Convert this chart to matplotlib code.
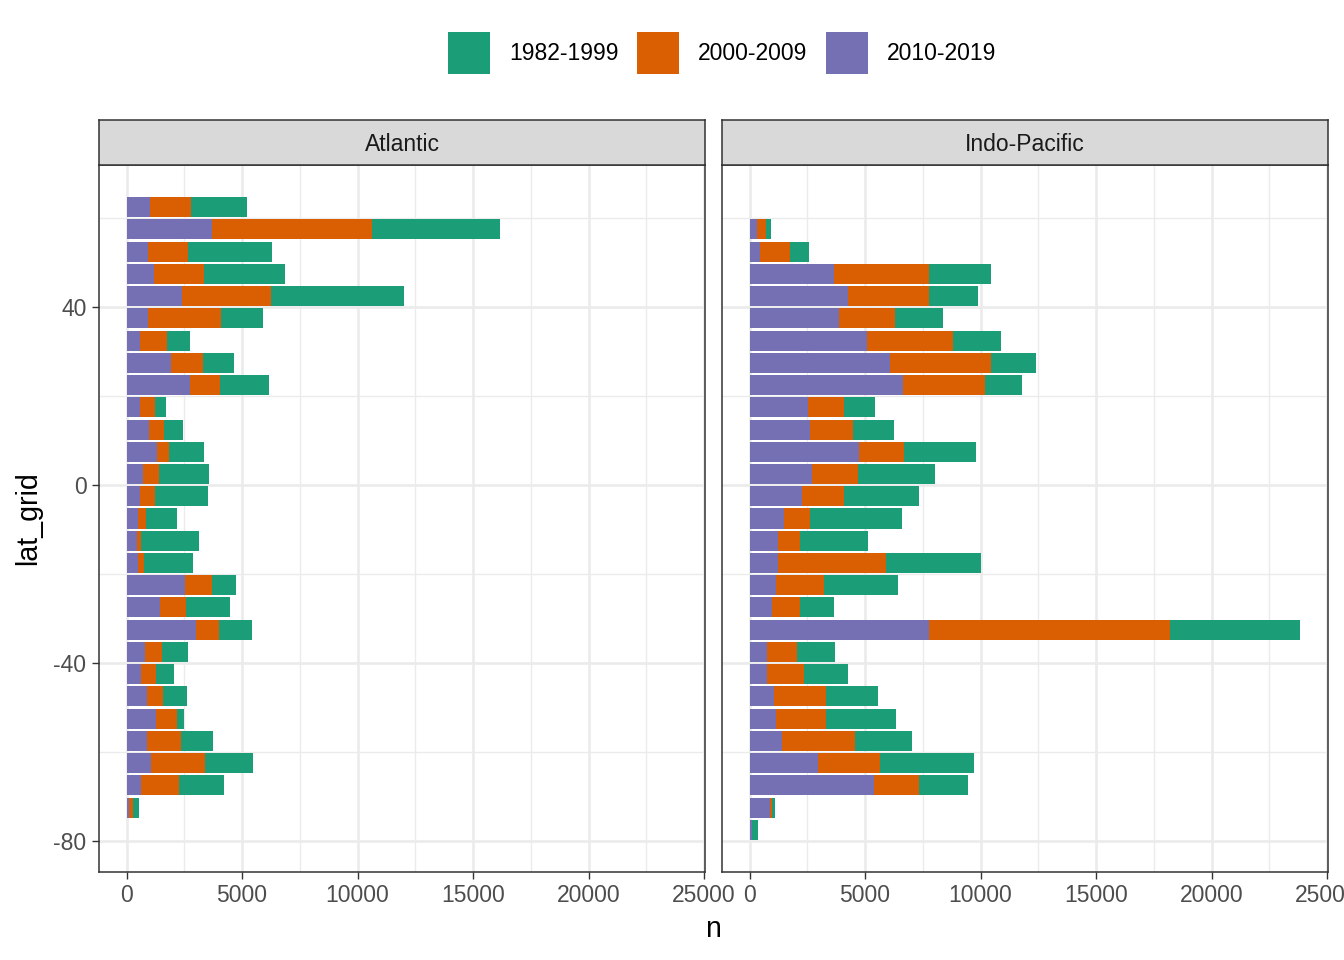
import numpy as np
import matplotlib
matplotlib.use("Agg")
import matplotlib.pyplot as plt
from matplotlib.patches import Patch
from matplotlib.ticker import MultipleLocator

plt.rcParams["font.family"] = ["Liberation Sans", "DejaVu Sans"]
plt.rcParams["axes.unicode_minus"] = False

# latitude bins (5 degree grid)
lat_grid = [62.5, 57.5, 52.5, 47.5, 42.5, 37.5, 32.5, 27.5, 22.5, 17.5,
            12.5, 7.5, 2.5, -2.5, -7.5, -12.5, -17.5, -22.5, -27.5, -32.5,
            -37.5, -42.5, -47.5, -52.5, -57.5, -62.5, -67.5, -72.5, -77.5]

periods = ["1982-1999", "2000-2009", "2010-2019"]
period_colors = ["#1B9E77", "#D95F02", "#7570B3"]
basins = ["Atlantic", "Indo-Pacific"]

# counts per period, Atlantic
atl_1982 = [2414, 5517, 3608, 3478, 5775, 1810, 992, 1336, 2099, 474,
            806, 1509, 2155, 2284, 1323, 2499, 2099, 1021, 1884, 1423,
            1107, 763, 1034, 302, 1379, 2069, 1940, 288, 0]
atl_2000 = [1754, 6926, 1723, 2155, 3823, 3133, 1151, 1379, 1292, 634,
            660, 517, 689, 634, 345, 173, 259, 1177, 1121, 978,
            746, 659, 690, 892, 1466, 2327, 1637, 143, 0]
atl_2010 = [1035, 3707, 949, 1207, 2414, 949, 603, 1927, 2759, 603,
            978, 1323, 720, 603, 517, 461, 517, 2530, 1465, 3017,
            806, 634, 892, 1293, 892, 1065, 634, 116, 0]

# counts per period, Indo-Pacific
ind_1982 = [0, 185, 819, 2672, 2112, 2069, 2069, 1910, 1594, 1349,
            1767, 3117, 3332, 3245, 4008, 2944, 4107, 3233, 1508, 5646,
            1651, 1940, 2284, 3060, 2457, 4065, 2112, 129, 260]
ind_2000 = [0, 431, 1293, 4107, 3504, 2413, 3706, 4396, 3535, 1552,
            1866, 1926, 2013, 1811, 1121, 978, 4655, 2038, 1177, 10430,
            1293, 1564, 2242, 2125, 3189, 2702, 1952, 56, 0]
ind_2010 = [0, 302, 444, 3664, 4267, 3892, 5099, 6077, 6650, 2543,
            2629, 4754, 2685, 2284, 1478, 1220, 1250, 1164, 991, 7771,
            776, 776, 1047, 1164, 1392, 2944, 5388, 905, 100]

data = {
    "Atlantic": [atl_1982, atl_2000, atl_2010],
    "Indo-Pacific": [ind_1982, ind_2000, ind_2010],
}

GRID = "#EBEBEB"
DARK = "#333333"
TXT = "#4D4D4D"
FS = 16.5

fig = plt.figure(figsize=(13.44, 9.6), dpi=100)

lat = np.array(lat_grid)
bar_h = 0.9 * 5
ylo, yhi = lat.min() - bar_h / 2, lat.max() + bar_h / 2
ypad = 0.05 * (yhi - ylo)
totals = [np.sum(data[b], axis=0).max() for b in basins]
xmax = max(totals)

panel_left = [99 / 1344, 722 / 1344]
pw = 606 / 1344
pb = 1 - 872 / 960
ph = 707 / 960
sh = 45 / 960

for i, basin in enumerate(basins):
    ax = fig.add_axes([panel_left[i], pb, pw, ph])
    g, o, p = [np.array(v, dtype=float) for v in data[basin]]
    # stack: 2010-2019 at left, then 2000-2009, then 1982-1999
    ax.barh(lat, p, height=bar_h, color=period_colors[2], linewidth=0, zorder=3)
    ax.barh(lat, o, left=p, height=bar_h, color=period_colors[1], linewidth=0, zorder=3)
    ax.barh(lat, g, left=p + o, height=bar_h, color=period_colors[0], linewidth=0, zorder=3)

    ax.set_xlim(-0.05 * xmax, 1.05 * xmax)
    ax.set_ylim(ylo - ypad, yhi + ypad)
    ax.xaxis.set_major_locator(MultipleLocator(5000))
    ax.xaxis.set_minor_locator(MultipleLocator(2500))
    ax.yaxis.set_major_locator(MultipleLocator(40))
    ax.yaxis.set_minor_locator(MultipleLocator(20))
    ax.grid(which="major", color=GRID, linewidth=1.9, zorder=0)
    ax.grid(which="minor", color=GRID, linewidth=0.95, zorder=0)
    ax.set_axisbelow(True)
    ax.tick_params(which="major", direction="out", length=5, width=1.0,
                   color=DARK, labelsize=FS, labelcolor=TXT, pad=4)
    ax.tick_params(which="minor", length=0)
    if i > 0:
        ax.tick_params(axis="y", which="both", left=False, labelleft=False)
    for s in ax.spines.values():
        s.set_color(DARK)
        s.set_linewidth(1.1)
        s.set_zorder(5)

    # facet strip
    st = fig.add_axes([panel_left[i], pb + ph, pw, sh])
    st.set_facecolor("#D9D9D9")
    st.set_xticks([])
    st.set_yticks([])
    for s in st.spines.values():
        s.set_color(DARK)
        s.set_linewidth(1.1)
    st.text(0.5, 0.46, basin, ha="center", va="center", fontsize=FS,
            color="#1A1A1A", transform=st.transAxes)

fig.text(713 / 1344, 1 - 929 / 960, "n", ha="center", va="center", fontsize=20.6)
fig.text(28 / 1344, 1 - 518 / 960, "lat_grid", ha="center", va="center",
         rotation=90, fontsize=20.6)

handles = [Patch(facecolor=c, edgecolor="none") for c in period_colors]
fig.legend(handles, periods, loc="center", bbox_to_anchor=(722 / 1344, 1 - 53 / 960),
           ncol=3, frameon=False, fontsize=FS, handlelength=1.83, handleheight=2.45,
           handletextpad=0.84, columnspacing=0.8)

fig.savefig("out.png", dpi=100)
